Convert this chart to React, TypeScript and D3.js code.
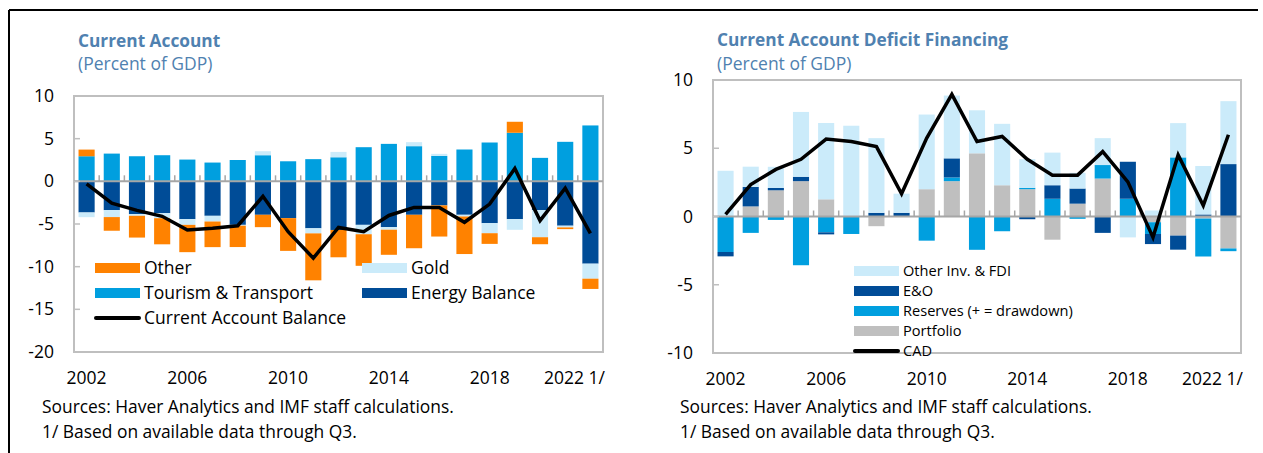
import React from 'react';
import * as d3 from 'd3';

// ---- data (percent of GDP) ----
const years = d3.range(2002, 2023).map(String);
const yearLabels = ['2002', '2006', '2010', '2014', '2018', '2022'];

// left: current account
const energyBalance = [-3.65, -3.37, -3.84, -3.73, -4.43, -4.04, -5.1, -3.92, -4.31, -5.5, -5.7, -5.1, -5.37, -3.92, -2.82, -3.92, -4.9, -4.43, -3.37, -5.2, -9.65];
const tourism = [2.94, 3.25, 2.94, 3.06, 2.55, 2.2, 2.5, 3.06, 2.35, 2.6, 2.82, 4.0, 4.39, 4.12, 2.98, 3.73, 4.55, 5.69, 2.75, 4.63, 6.55];
const gold = [-0.55, -0.82, -0.2, -0.59, -0.67, -0.67, -0.1, 0.47, 0, -0.6, 0.63, -1.1, -0.3, 0.47, 0.24, -0.2, -1.18, -1.25, -3.18, -0.2, -1.76];
const other = [0.78, -1.6, -2.55, -3.06, -3.2, -3.0, -2.5, -1.45, -3.84, -5.5, -3.2, -3.7, -2.94, -3.92, -3.65, -4.4, -1.25, 1.29, -0.82, -0.2, -1.2];
const caBalance = [-0.3, -2.55, -3.4, -4.1, -5.7, -5.5, -5.2, -1.76, -5.9, -9.0, -5.4, -5.9, -4.0, -3.06, -3.06, -4.8, -2.67, 1.5, -4.6, -0.8, -6.1];

// right: CAD financing
const portfolio = [0, 0.74, 1.92, 2.59, 1.26, 0, -0.71, 0, 2.0, 2.59, 4.63, 2.29, 2.0, -1.7, 0.94, 2.78, 0, -0.42, -1.4, -0.15, -2.34];
const reserves = [-2.6, -1.2, -0.25, -3.57, -1.16, -1.28, 0, 0, -1.77, 0.27, -2.44, -1.08, 0.1, 1.3, -0.17, 0.99, 1.3, -0.86, 4.33, -2.78, -0.2];
const errorsOmissions = [-0.32, 1.43, 0.17, 0.32, -0.15, 0, 0.27, 0.27, 0, 1.4, 0, 0, -0.2, 0.99, 1.11, -1.2, 2.71, -0.74, -1.03, 0.15, 3.84];
const otherInvFdi = [3.35, 1.48, 1.55, 4.75, 5.59, 6.65, 5.47, 1.4, 5.47, 4.6, 3.15, 4.5, 2.1, 2.39, 1.15, 1.97, -1.53, 0.44, 2.51, 3.55, 4.61];
const cad = [0.15, 2.34, 3.45, 4.19, 5.67, 5.49, 5.12, 1.67, 5.74, 8.94, 5.49, 5.86, 4.19, 3.03, 3.03, 4.75, 2.54, -1.53, 4.51, 0.81, 5.99];

const FONT = "'Open Sans', 'Noto Sans', sans-serif";
const TITLE = '#4f81b0';
const ORANGE = '#ff8200';
const LIGHT = '#cbebfa';
const MID = '#009fdf';
const DARK = '#004c97';
const GREY = '#bfbfbf';
const AXIS = '#bfbfbf';
const TICK_FS = 17.5;

type Series = { key: string; values: number[]; color: string };

function Panel(props: {
  x0: number; x1: number; y0: number; y1: number;
  domain: [number, number]; ticks: number[];
  tickX: number; series: Series[]; line: number[];
}) {
  const { x0, x1, y0, y1, domain, ticks, tickX, series, line } = props;
  const x = d3.scaleBand<string>().domain(years).range([x0, x1]).paddingInner(0.36).paddingOuter(0.18);
  const y = d3.scaleLinear().domain(domain).range([y1, y0]);
  const rows = years.map((yr, i) => {
    const r: any = { year: yr };
    series.forEach(s => { r[s.key] = s.values[i]; });
    return r;
  });
  const stacked = d3.stack<any>().keys(series.map(s => s.key)).offset(d3.stackOffsetDiverging)(rows);
  const step = x.step();
  const lineGen = d3.line<number>()
    .x((_, i) => (x(years[i]) as number) + x.bandwidth() / 2)
    .y(d => y(d));
  return (
    <g>
      {stacked.map((layer, li) => (
        <g key={layer.key} fill={series[li].color}>
          {layer.map((d, i) => {
            const top = y(Math.max(d[0], d[1]));
            const h = Math.abs(y(d[0]) - y(d[1]));
            if (h < 0.01) return null;
            return <rect key={i} x={x(years[i])} y={top} width={x.bandwidth()} height={h} />;
          })}
        </g>
      ))}
      <rect x={x0} y={y0} width={x1 - x0} height={y1 - y0} fill="none" stroke={AXIS} strokeWidth={2} />
      <line x1={x0} x2={x1} y1={y(0)} y2={y(0)} stroke="#a6a6a6" strokeWidth={2} />
      {years.slice(1).map((yr) => {
        const xx = (x(yr) as number) - (step - x.bandwidth()) / 2;
        return <line key={yr} x1={xx} x2={xx} y1={y(0)} y2={y(0) - 6} stroke="#a6a6a6" strokeWidth={1.5} />;
      })}
      {ticks.map(t => (
        <g key={t}>
          <line x1={x0} x2={x0 + 6} y1={y(t)} y2={y(t)} stroke={AXIS} strokeWidth={1.5} />
          <text x={tickX} y={y(t)} dy="0.35em" textAnchor="end" fontSize={TICK_FS}>{t}</text>
        </g>
      ))}
      <path d={lineGen(line) || ''} fill="none" stroke="#000" strokeWidth={3.5} strokeLinejoin="miter" />
      {yearLabels.map((yr, i) => {
        const last = i === yearLabels.length - 1;
        const cx = (x(yr) as number) + x.bandwidth() / 2;
        return (
          <text key={yr} x={last ? x1 + 2 : cx} y={y1 + 32} textAnchor={last ? 'end' : 'middle'} fontSize={TICK_FS}>
            {last ? `${yr} 1/` : yr}
          </text>
        );
      })}
    </g>
  );
}

function LegendBox(p: { x: number; y: number; label: string; color: string; size: number; isLine?: boolean }) {
  return (
    <g>
      {p.isLine
        ? <line x1={p.x + 1} x2={p.x + 44} y1={p.y} y2={p.y} stroke="#000" strokeWidth={4} strokeLinecap="round" />
        : <rect x={p.x} y={p.y - 5} width={45} height={10} fill={p.color} />}
      <text x={p.x + 49} y={p.y} dy="0.35em" fontSize={p.size}>{p.label}</text>
    </g>
  );
}

export default function App() {
  const leftSeries: Series[] = [
    { key: 'energy', values: energyBalance, color: DARK },
    { key: 'tourism', values: tourism, color: MID },
    { key: 'gold', values: gold, color: LIGHT },
    { key: 'other', values: other, color: ORANGE },
  ];
  const rightSeries: Series[] = [
    { key: 'portfolio', values: portfolio, color: GREY },
    { key: 'reserves', values: reserves, color: MID },
    { key: 'eo', values: errorsOmissions, color: DARK },
    { key: 'oi', values: otherInvFdi, color: LIGHT },
  ];
  const L = 17.5;
  const R = 14.6;
  return (
    <div style={{ position: 'absolute', left: 0, top: 0 }}>
      <svg width={1263} height={453} style={{ display: 'block', fontFamily: FONT }}>
        <rect width={1263} height={453} fill="#fff" />
        <line x1={9} x2={1258} y1={10} y2={10} stroke="#000" strokeWidth={2} />
        <line x1={9} x2={9} y1={10} y2={453} stroke="#000" strokeWidth={2} />

        <text x={78} y={47} fill={TITLE} fontWeight="bold" fontSize={17.3}>Current Account</text>
        <text x={78} y={70} fill={TITLE} fontSize={17.5}>(Percent of GDP)</text>
        <Panel x0={74} x1={603} y0={96} y1={352} domain={[-20, 10]} ticks={[10, 5, 0, -5, -10, -15, -20]}
          tickX={54} series={leftSeries} line={caBalance} />
        <LegendBox x={95} y={268} label="Other" color={ORANGE} size={L} />
        <LegendBox x={362} y={268} label="Gold" color={LIGHT} size={L} />
        <LegendBox x={95} y={293} label="Tourism & Transport" color={MID} size={L} />
        <LegendBox x={362} y={293} label="Energy Balance" color={DARK} size={L} />
        <LegendBox x={95} y={318} label="Current Account Balance" color="#000" size={L} isLine />
        <text x={42} y={413} fontSize={17.4}>Sources: Haver Analytics and IMF staff calculations.</text>
        <text x={42} y={438} fontSize={17.4}>1/ Based on available data through Q3.</text>

        <text x={717} y={46} fill={TITLE} fontWeight="bold" fontSize={17.3}>Current Account Deficit Financing</text>
        <text x={717} y={70} fill={TITLE} fontSize={17.5}>(Percent of GDP)</text>
        <Panel x0={713} x1={1241} y0={80} y1={353} domain={[-10, 10]} ticks={[10, 5, 0, -5, -10]}
          tickX={693} series={rightSeries} line={cad} />
        <LegendBox x={854} y={271} label="Other Inv. & FDI" color={LIGHT} size={R} />
        <LegendBox x={854} y={291} label="E&O" color={DARK} size={R} />
        <LegendBox x={854} y={311} label="Reserves (+ = drawdown)" color={MID} size={R} />
        <LegendBox x={854} y={331} label="Portfolio" color={GREY} size={R} />
        <LegendBox x={854} y={351} label="CAD" color="#000" size={R} isLine />
        <text x={680} y={413} fontSize={17.4}>Sources: Haver Analytics and IMF staff calculations.</text>
        <text x={680} y={438} fontSize={17.4}>1/ Based on available data through Q3.</text>
      </svg>
    </div>
  );
}
